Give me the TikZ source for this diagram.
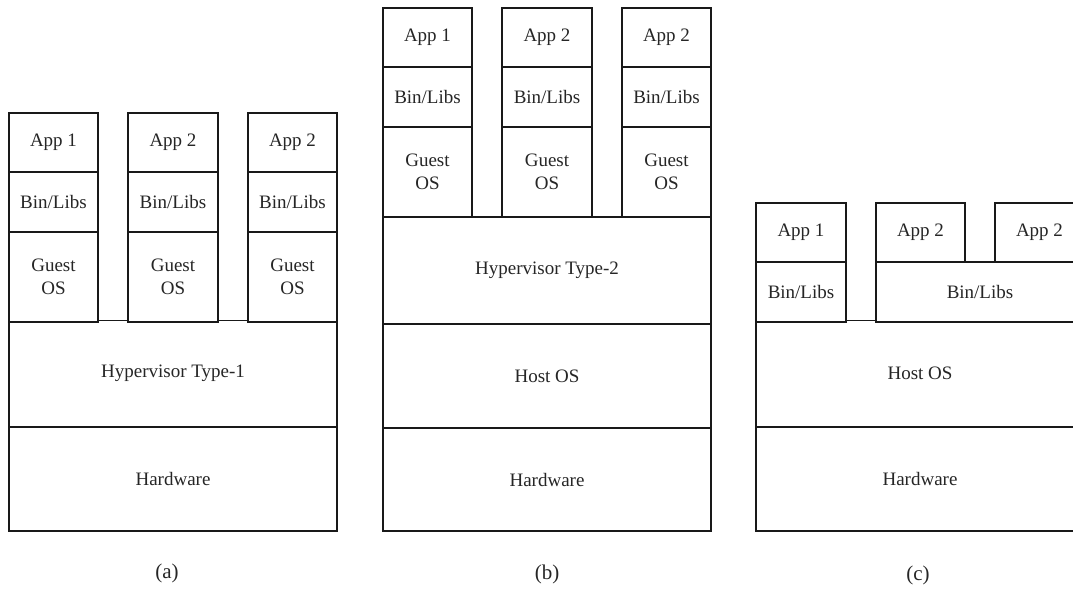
\documentclass[tikz,border=0pt]{standalone}
\usepackage{fontspec}
\setmainfont{Liberation Serif}
\begin{document}
\begin{tikzpicture}[x=1pt,y=-1pt,
  blk/.style={draw=black!90, line width=1.4pt, fill=white, inner sep=0pt, outer sep=0pt,
    anchor=north west, align=center, text=black!85,
    font=\fontsize{19}{23}\selectfont},
  sublbl/.style={inner sep=0pt, text=black!85, font=\fontsize{21}{25}\selectfont}]
\useasboundingbox (0,0) rectangle (1073,589);
% ---------- (a) ----------
\node[blk, minimum width=328pt, minimum height=104pt] (aHW) at (9,427) {Hardware};
\node[blk, minimum width=328pt, minimum height=106.5pt] (aHyp) at (9,320.5) {Hypervisor Type-1};
\node[blk, minimum width=89pt, minimum height=59pt] (aApp1) at (9,113) {App 1};
\node[blk, minimum width=89pt, minimum height=60pt] (aBin1) at (9,172) {Bin/Libs};
\node[blk, minimum width=89pt, minimum height=90pt] (aOS1) at (9,232) {Guest\\OS};
\node[blk, minimum width=90pt, minimum height=59pt] (aApp2) at (128,113) {App 2};
\node[blk, minimum width=90pt, minimum height=60pt] (aBin2) at (128,172) {Bin/Libs};
\node[blk, minimum width=90pt, minimum height=90pt] (aOS2) at (128,232) {Guest\\OS};
\node[blk, minimum width=89pt, minimum height=59pt] (aApp3) at (248,113) {App 2};
\node[blk, minimum width=89pt, minimum height=60pt] (aBin3) at (248,172) {Bin/Libs};
\node[blk, minimum width=89pt, minimum height=90pt] (aOS3) at (248,232) {Guest\\OS};
\node[sublbl] (capa) at (167,573) {(a)};
% ---------- (b) ----------
\node[blk, minimum width=328pt, minimum height=103pt] (bHW) at (383,428) {Hardware};
\node[blk, minimum width=328pt, minimum height=104pt] (bHost) at (383,324) {Host OS};
\node[blk, minimum width=328pt, minimum height=107pt] (bHyp) at (383,217) {Hypervisor Type-2};
\node[blk, minimum width=89pt, minimum height=59pt] (bApp1) at (383,8) {App 1};
\node[blk, minimum width=89pt, minimum height=60pt] (bBin1) at (383,67) {Bin/Libs};
\node[blk, minimum width=89pt, minimum height=90pt] (bOS1) at (383,127) {Guest\\OS};
\node[blk, minimum width=90pt, minimum height=59pt] (bApp2) at (502,8) {App 2};
\node[blk, minimum width=90pt, minimum height=60pt] (bBin2) at (502,67) {Bin/Libs};
\node[blk, minimum width=90pt, minimum height=90pt] (bOS2) at (502,127) {Guest\\OS};
\node[blk, minimum width=89pt, minimum height=59pt] (bApp3) at (622,8) {App 2};
\node[blk, minimum width=89pt, minimum height=60pt] (bBin3) at (622,67) {Bin/Libs};
\node[blk, minimum width=89pt, minimum height=90pt] (bOS3) at (622,127) {Guest\\OS};
\node[sublbl] (capb) at (547,574) {(b)};
% ---------- (c) ----------
\node[blk, minimum width=328pt, minimum height=104pt] (cHW) at (756,427) {Hardware};
\node[blk, minimum width=328pt, minimum height=106.5pt] (cHost) at (756,320.5) {Host OS};
\node[blk, minimum width=90pt, minimum height=59pt] (cApp1) at (756,203) {App 1};
\node[blk, minimum width=90pt, minimum height=60pt] (cBin1) at (756,262) {Bin/Libs};
\node[blk, minimum width=208pt, minimum height=60pt] (cBin2) at (876,262) {Bin/Libs};
\node[blk, minimum width=89pt, minimum height=59pt] (cApp2) at (876,203) {App 2};
\node[blk, minimum width=89pt, minimum height=59pt] (cApp3) at (995,203) {App 2};
\node[sublbl] (capc) at (918,575) {(c)};
\end{tikzpicture}
\end{document}
